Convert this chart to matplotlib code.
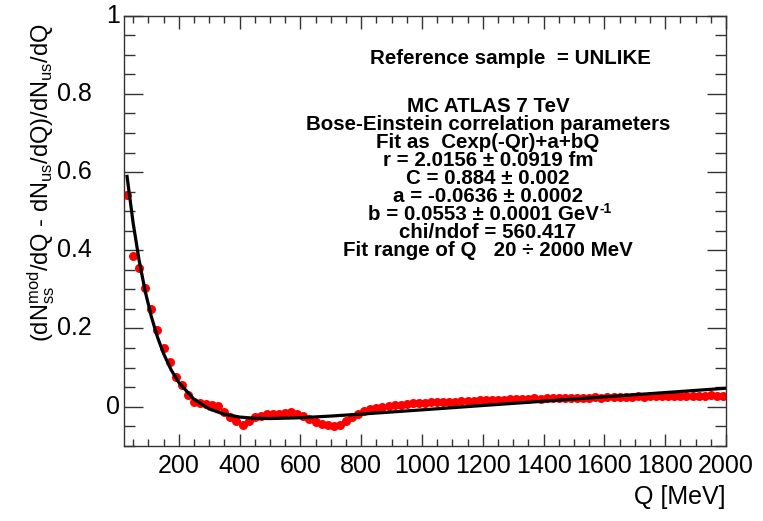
import numpy as np
import matplotlib.pyplot as plt
from matplotlib.ticker import MultipleLocator, NullFormatter
from matplotlib.transforms import blended_transform_factory, ScaledTranslation

plt.rcParams['font.family'] = ['Liberation Sans', 'DejaVu Sans']
plt.rcParams['mathtext.fontset'] = 'custom'
plt.rcParams['mathtext.rm'] = 'Liberation Sans'
plt.rcParams['mathtext.it'] = 'Liberation Sans'
plt.rcParams['mathtext.default'] = 'regular'

# Q bin centres [MeV] and measured ratio (red points)
q_bins = np.arange(30, 2000, 20)
ratio = [
    0.541, 0.385, 0.355, 0.304, 0.249, 0.197, 0.150, 0.113, 0.075, 0.054,
    0.030, 0.013, 0.009, 0.007, 0.005, 0.001, -0.013, -0.027, -0.038, -0.047,
    -0.036, -0.027, -0.023, -0.020, -0.019, -0.018, -0.016, -0.015, -0.019, -0.024,
    -0.031, -0.039, -0.045, -0.048, -0.050, -0.048, -0.038, -0.027, -0.018, -0.011,
    -0.006, -0.003, 0.000, 0.002, 0.003, 0.005, 0.007, 0.009, 0.010, 0.010,
    0.011, 0.012, 0.012, 0.013, 0.013, 0.014, 0.014, 0.015, 0.016, 0.016,
    0.017, 0.018, 0.018, 0.019, 0.020, 0.019, 0.020, 0.021, 0.020, 0.021,
    0.022, 0.021, 0.022, 0.023, 0.022, 0.023, 0.023, 0.024, 0.023, 0.024,
    0.024, 0.025, 0.024, 0.025, 0.026, 0.025, 0.026, 0.026, 0.027, 0.026,
    0.027, 0.027, 0.028, 0.027, 0.028, 0.028, 0.029, 0.028, 0.028,
]
ratio_err = 0.004

# fit curve
fit_q = [30, 50, 70, 90, 110, 130, 150, 175, 200, 250, 300, 350, 400, 450,
         500, 600, 700, 800, 1000, 1200, 1400, 1600, 1800, 2000]
fit_val = [0.589, 0.470, 0.373, 0.294, 0.230, 0.178, 0.136, 0.094, 0.062, 0.019,
           -0.006, -0.0195, -0.0267, -0.0298, -0.0306, -0.0285, -0.0242, -0.0192,
           -0.0083, 0.0028, 0.0138, 0.0249, 0.0359, 0.0470]

y_ticks = [0, 0.2, 0.4, 0.6, 0.8, 1.0]
y_ticklabels = ['0', '0.2', '0.4', '0.6', '0.8', '1']

info_lines = [
    'MC ATLAS 7 TeV',
    'Bose-Einstein correlation parameters',
    'Fit as  Cexp(-Qr)+a+bQ',
    'r = 2.0156 ± 0.0919 fm',
    'C = 0.884 ± 0.002',
    'a = -0.0636 ± 0.0002',
    'b = 0.0553 ± 0.0001 GeV',
    'chi/ndof = 560.417',
    'Fit range of Q   20 ÷ 2000 MeV',
]

W, H = 763, 521
fig = plt.figure(figsize=(W / 100, H / 100), dpi=100)
ax = fig.add_axes([124 / W, 1 - 445.7 / H, (726 - 124) / W, (445.7 - 15.7) / H])

ax.errorbar(q_bins, ratio, yerr=ratio_err, fmt='o', color='#ff0000', markersize=6.5,
            markeredgewidth=0, elinewidth=1.5, capsize=0, zorder=2)
ax.plot(fit_q, fit_val, '-', color='black', linewidth=2.3, zorder=3)

ax.set_xlim(20, 2000)
ax.set_ylim(-0.1, 1.0)
ax.xaxis.set_major_locator(MultipleLocator(200))
ax.xaxis.set_minor_locator(MultipleLocator(50))
ax.set_yticks(y_ticks)
ax.yaxis.set_major_formatter(NullFormatter())
ax.yaxis.set_minor_locator(MultipleLocator(0.05))

ax.tick_params(axis='both', which='both', direction='in', top=True, right=True,
               labelsize=18, width=1, color='#333333')
ax.tick_params(axis='x', which='major', length=9, pad=6)
ax.tick_params(axis='x', which='minor', length=5)
ax.tick_params(axis='y', which='major', length=14, pad=4)
ax.tick_params(axis='y', which='minor', length=8)
for s in ax.spines.values():
    s.set_linewidth(1)
    s.set_color('#333333')

# y tick labels: integers sit close to the axis, decimals further out
ytrans = blended_transform_factory(ax.transAxes, ax.transData)
for val, lab in zip(y_ticks, y_ticklabels):
    shift = 4 if '.' not in lab else 32
    tr = ytrans + ScaledTranslation(-shift / 100, 0, fig.dpi_scale_trans)
    ax.text(0, val, lab, transform=tr, ha='right', va='center', fontsize=18)

fig.text(725 / W, 1 - 497 / H, 'Q [MeV]', ha='right', va='center', fontsize=18)
fig.text(41 / W, 1 - 183 / H,
         '$(dN_{ss}^{mod}/dQ\\ \u2010\\ dN_{us}/dQ)/dN_{us}/dQ$',
         rotation=90, ha='center', va='center', fontsize=17)

fig.text(510 / W, 1 - 58 / H, 'Reference sample  = UNLIKE', ha='center', va='center',
         fontsize=14.8, fontweight='bold')
for i, line in enumerate(info_lines):
    is_b = line.endswith('GeV')
    x0 = 483 if is_b else 488
    t = fig.text(x0 / W, 1 - (106 + 18.1 * i) / H, line, ha='center', va='center',
                 fontsize=14.8, fontweight='bold')
    if is_b:
        # GeV^-1 superscript
        ax.annotate('-1', xy=(1, 1), xycoords=t, xytext=(1, 2),
                    textcoords='offset points', ha='left', va='top',
                    fontsize=10, fontweight='bold')

fig.savefig('out.png', dpi=100)
